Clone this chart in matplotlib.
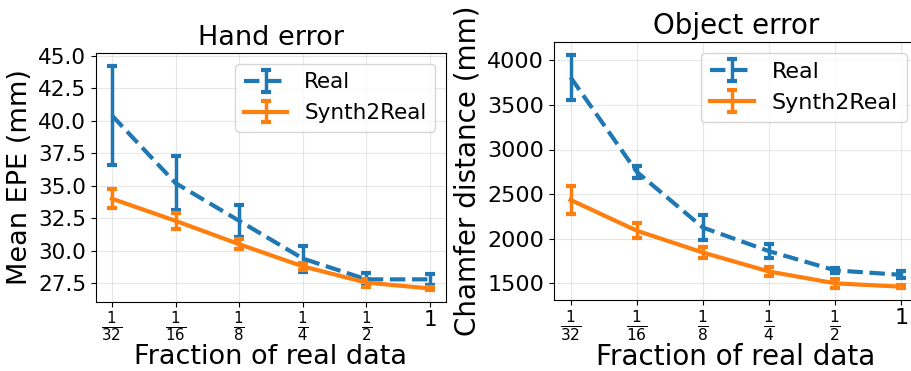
import matplotlib
matplotlib.use("Agg")
import matplotlib.pyplot as plt
from matplotlib.ticker import MultipleLocator

fractions = [1/32, 1/16, 1/8, 1/4, 1/2, 1]
tick_labels = [r"$\frac{1}{32}$", r"$\frac{1}{16}$", r"$\frac{1}{8}$",
               r"$\frac{1}{4}$", r"$\frac{1}{2}$", r"$1$"]

hand_real = [40.4, 35.2, 32.3, 29.4, 27.8, 27.8]
hand_real_err = [3.8, 2.05, 1.25, 1.0, 0.5, 0.45]
hand_s2r = [34.0, 32.3, 30.5, 28.8, 27.55, 27.1]
hand_s2r_err = [0.75, 0.6, 0.4, 0.25, 0.3, 0.15]

obj_real = [3810, 2750, 2125, 1860, 1645, 1595]
obj_real_err = [250, 65, 140, 80, 30, 40]
obj_s2r = [2435, 2090, 1845, 1632, 1500, 1462]
obj_s2r_err = [155, 85, 60, 50, 50, 20]

figure = plt.figure(figsize=(9.11, 3.71), dpi=100)
ax = figure.add_axes([96/911, 69/371, 350/911, 249/371])
ax2 = figure.add_axes([554/911, 71/371, 364/911, 258/371])

panels = [(ax, hand_real, hand_real_err, hand_s2r, hand_s2r_err, 19.5, 15.5),
          (ax2, obj_real, obj_real_err, obj_s2r, obj_s2r_err, 20, 16)]
for a, real, real_err, s2r, s2r_err, fs_label, fs_tick in panels:
    a.errorbar(fractions, real, yerr=real_err, color="C0", linestyle="--", linewidth=3,
               elinewidth=2.5, capsize=3.5, capthick=3, label="Real")
    a.errorbar(fractions, s2r, yerr=s2r_err, color="C1", linestyle="-", linewidth=3,
               elinewidth=2.5, capsize=3.5, capthick=3, label="Synth2Real")
    a.set_xscale("log", base=2)
    a.set_xticks(fractions)
    a.set_xticklabels(tick_labels)
    a.minorticks_off()
    a.tick_params(labelsize=fs_tick)
    a.tick_params(axis="x", pad=2)
    a.grid(True, alpha=0.3)
    a.set_xlabel("Fraction of real data", fontsize=fs_label, labelpad=0)
    a.legend(loc="upper right", fontsize=fs_tick)

ax.set_ylim(26.06, 45.2)
ax.yaxis.set_major_locator(MultipleLocator(2.5))
ax.set_title("Hand error", fontsize=19.5)
ax.set_ylabel("Mean EPE (mm)", fontsize=19.5)

ax2.set_ylim(1313, 4205)
ax2.yaxis.set_major_locator(MultipleLocator(500))
ax2.set_title("Object error", fontsize=20)
ax2.set_ylabel("Chamfer distance (mm)", fontsize=20)

plt.savefig("out.png", dpi=100)
